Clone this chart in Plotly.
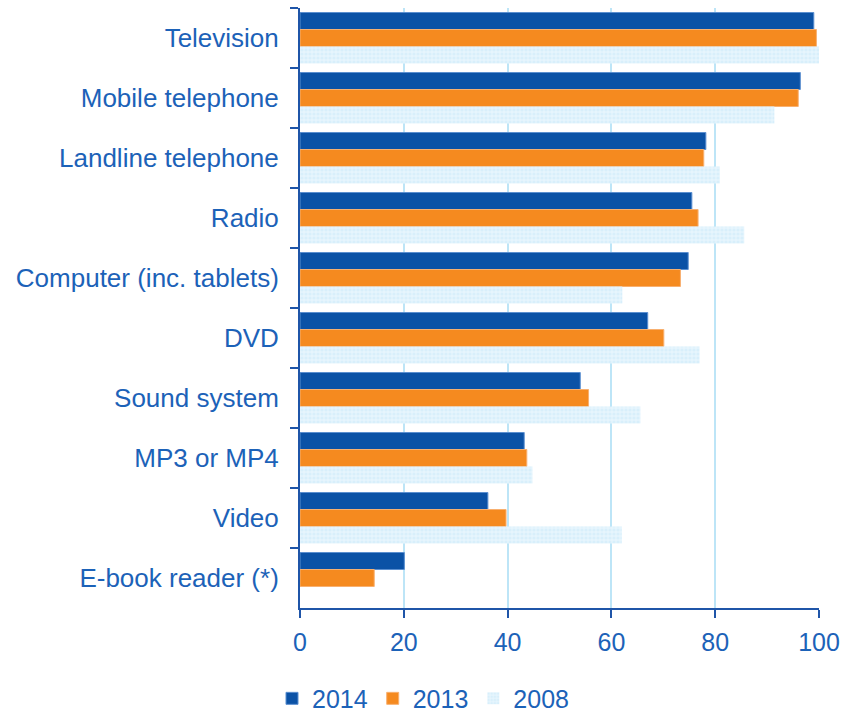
import plotly.graph_objects as go

categories = ["Television", "Mobile telephone", "Landline telephone", "Radio",
              "Computer (inc. tablets)", "DVD", "Sound system", "MP3 or MP4",
              "Video", "E-book reader (*)"]
v2014 = [99.0, 96.4, 78.2, 75.5, 74.8, 67.0, 54.0, 43.2, 36.2, 20.1]
v2013 = [99.5, 96.0, 77.8, 76.7, 73.3, 70.1, 55.6, 43.7, 39.7, 14.3]
v2008 = [100.0, 91.4, 80.9, 85.6, 62.1, 77.0, 65.6, 44.8, 62.0, None]
xticks = [0, 20, 40, 60, 80, 100]

txt = "#1C62B8"
axis_col = "#1F55A8"
grid_col = "#BDE5F7"

fig = go.Figure()
fig.add_trace(go.Bar(y=categories, x=v2014, name="2014", orientation="h",
                     marker=dict(color="#0B52A6", line=dict(color="#5B8FD0", width=1))))
fig.add_trace(go.Bar(y=categories, x=v2013, name="2013", orientation="h",
                     marker=dict(color="#F58A1F", line=dict(color="#F8B070", width=1))))
fig.add_trace(go.Bar(y=categories, x=v2008, name="2008", orientation="h",
                     marker=dict(color="#E6F5FD",
                                 pattern=dict(shape=".", fgcolor="#C9E9F9", size=4, solidity=0.5),
                                 line=dict(width=0))))

fig.update_layout(
    width=846, height=715,
    margin=dict(l=300, r=27, t=8, b=107, autoexpand=False),
    barmode="group", bargap=0.15, bargroupgap=0,
    plot_bgcolor="white", paper_bgcolor="white",
    font=dict(family="Liberation Sans, Arial, sans-serif", color=txt, size=25),
    legend=dict(orientation="h", xref="container", x=0.5, xanchor="center",
                yref="paper", y=-0.151, yanchor="middle",
                font=dict(size=25, color=txt), traceorder="normal",
                itemwidth=30),
)
fig.update_xaxes(range=[0, 100], tickvals=xticks, showgrid=True, gridcolor=grid_col,
                 gridwidth=2, showline=True, linecolor=axis_col, linewidth=2,
                 ticks="outside", tickcolor=axis_col, ticklen=8, tickwidth=2,
                 zeroline=False, tickfont=dict(size=25, color=txt), ticklabelstandoff=3,
                 tickangle=0, automargin=False)
fig.update_yaxes(autorange="reversed", showline=True, linecolor=axis_col, linewidth=2,
                 ticks="outside", tickson="boundaries", tickcolor=axis_col, ticklen=8,
                 tickwidth=2, showgrid=False, tickfont=dict(size=26, color=txt),
                 ticklabelstandoff=14, automargin=False)

fig.write_html("out.html")
